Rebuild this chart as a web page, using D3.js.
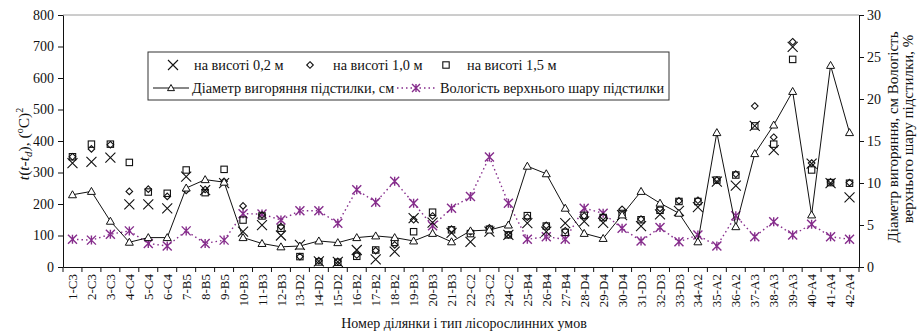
<!DOCTYPE html>
<html>
<head>
<meta charset="utf-8">
<script src="https://cdn.jsdelivr.net/npm/d3@7"></script>
<style>
  html, body { margin: 0; padding: 0; background: #fff; }
  svg { display: block; font-family: "Liberation Serif", "Times New Roman", serif; }
</style>
</head>
<body>
<svg id="chart" width="920" height="332"></svg>
<script>
// Plot numbers and soil/forest type per plot
const categories = ["1-C3","2-C3","3-C3","4-C4","5-C4","6-C4","7-B5","8-B5","9-B5","10-B3","11-B3","12-B3",
  "13-D2","14-D2","15-D2","16-B2","17-B2","18-B2","19-B3","20-B3","21-B3","22-C2","23-C2","24-C2",
  "25-B4","26-B4","27-B4","28-D4","29-D4","30-D4","31-D3","32-D3","33-D3","34-A2","35-A2","36-A2",
  "37-A3","38-A3","39-A3","40-A4","41-A4","42-A4"];

// t(t - t_d), (°C)^2 at three heights
const h02 = [330,334,347,199,199,186,287,244,266,112,133,100,70,18,16,54,24,49,155,141,108,80,112,102,
  139,112,139,145,140,165,130,167,178,190,271,258,448,371,699,328,266,221];
const h10 = [350,375,388,240,247,224,243,246,272,194,165,128,33,20,18,38,52,70,150,162,120,112,124,102,
  158,132,115,162,160,183,152,186,210,212,276,295,511,412,715,330,270,268];
const h15 = [350,390,390,332,238,234,308,236,310,149,162,123,33,16,15,34,54,78,112,174,118,106,120,102,
  163,130,110,164,157,170,150,180,208,208,276,292,448,390,659,308,268,266];

// Burn-out diameter, cm and moisture of the upper litter layer, % (right axis)
const diameter = [8.6,9.0,5.45,2.95,3.5,3.5,9.4,10.4,10.1,3.5,2.8,2.4,2.5,3.1,2.9,3.5,3.7,3.5,3.1,4.0,3.0,4.3,4.4,5.0,
  12.0,11.1,7.0,4.0,3.4,6.2,9.0,7.6,6.4,3.0,16.0,4.8,13.5,16.9,20.9,6.2,24.0,16.0];
const moisture = [3.3,3.2,3.9,4.3,2.8,2.5,4.3,2.8,3.2,6.35,6.3,5.6,6.7,6.7,5.2,9.2,7.7,10.2,7.6,4.9,7.0,8.4,13.1,7.6,
  3.3,3.6,3.3,7.0,6.4,4.6,3.1,4.7,3.0,3.8,2.5,6.1,3.6,5.4,3.8,5.1,3.6,3.3];

const leftTicks = [0,100,200,300,400,500,600,700,800];
const rightTicks = [0,5,10,15,20,25,30];

const purple = "#862d8c";
const svg = d3.select("#chart");
const L = 63, R = 859, T = 15, B = 267;

const x = d3.scaleBand().domain(categories).range([L, R]).padding(0);
const cx = c => x(c) + x.bandwidth() / 2;
const yL = d3.scaleLinear().domain([0, 800]).range([B, T]);
const yR = d3.scaleLinear().domain([0, 30]).range([B, T]);

// top frame line
svg.append("line").attr("x1", L).attr("x2", R).attr("y1", T).attr("y2", T)
  .attr("stroke", "#9a9a9a").attr("stroke-width", 1);

// left axis
const gL = svg.append("g").attr("transform", `translate(${L},0)`)
  .call(d3.axisLeft(yL).tickValues(leftTicks).tickSize(5).tickPadding(4).tickSizeOuter(0));
gL.selectAll("text").attr("font-size", 14).attr("font-family", "Liberation Serif").attr("fill", "#111");

// right axis
const gR = svg.append("g").attr("transform", `translate(${R},0)`)
  .call(d3.axisRight(yR).tickValues(rightTicks).tickSize(5).tickPadding(3).tickSizeOuter(0));
gR.selectAll("text").attr("font-size", 14).attr("font-family", "Liberation Serif").attr("fill", "#111");
[gL, gR].forEach(g => { g.selectAll("line,path").attr("stroke", "#111"); });

// bottom axis: labels centred on categories, ticks at band boundaries
const gB = svg.append("g").attr("transform", `translate(0,${B})`)
  .call(d3.axisBottom(x).tickSize(0).tickSizeOuter(0));
gB.select("path").attr("stroke", "#111");
gB.selectAll(".tick text")
  .attr("font-size", 13).attr("font-family", "Liberation Serif").attr("fill", "#111")
  .attr("text-anchor", "end")
  .attr("transform", "rotate(-90)")
  .attr("x", -7).attr("y", 0).attr("dy", "0.35em");
const bounds = categories.map(c => x(c)).concat([R]);
gB.selectAll(".bt").data(bounds).enter().append("line")
  .attr("x1", d => d).attr("x2", d => d).attr("y1", 0).attr("y2", 5)
  .attr("stroke", "#111");

// axis titles
svg.append("text").attr("x", 464).attr("y", 328).attr("text-anchor", "middle")
  .attr("font-size", 14).attr("fill", "#111").text("Номер ділянки і тип лісорослинних умов");

const lt = svg.append("text").attr("transform", "translate(29,144) rotate(-90)")
  .attr("text-anchor", "middle").attr("font-size", 15.5).attr("fill", "#111");
lt.append("tspan").attr("font-style", "italic").text("t");
lt.append("tspan").text("(");
lt.append("tspan").attr("font-style", "italic").text("t");
lt.append("tspan").text("-");
lt.append("tspan").attr("font-style", "italic").text("t");
lt.append("tspan").attr("font-style", "italic").attr("font-size", 11).attr("dy", 3).text("d");
lt.append("tspan").attr("dy", -3).text("), (");
lt.append("tspan").attr("font-size", 10).attr("dy", -6).text("o");
lt.append("tspan").attr("dy", 6).text("C)");
lt.append("tspan").attr("font-size", 10).attr("dy", -6).text("2");

svg.append("text").attr("transform", "translate(898,137) rotate(-90)")
  .attr("text-anchor", "middle").attr("font-size", 15).attr("fill", "#111")
  .text("Діаметр вигоряння, см Вологість");
svg.append("text").attr("transform", "translate(913,129) rotate(-90)")
  .attr("text-anchor", "middle").attr("font-size", 15).attr("fill", "#111")
  .text("верхнього шару підстилки, %");

// marker painters
function cross(g, px, py, r) {
  g.append("path").attr("d", `M${px-r},${py-r}L${px+r},${py+r}M${px-r},${py+r}L${px+r},${py-r}`)
    .attr("stroke", "#111").attr("stroke-width", 1.1).attr("fill", "none");
}
function diamond(g, px, py, r) {
  g.append("path").attr("d", `M${px},${py-r}L${px+r},${py}L${px},${py+r}L${px-r},${py}Z`)
    .attr("stroke", "#111").attr("stroke-width", 1.1).attr("fill", "none");
}
function square(g, px, py, r) {
  g.append("rect").attr("x", px - r).attr("y", py - r).attr("width", 2 * r).attr("height", 2 * r)
    .attr("stroke", "#111").attr("stroke-width", 1.1).attr("fill", "none");
}
function triangle(g, px, py, r) {
  g.append("path").attr("d", `M${px},${py-r}L${px+r},${py+r*0.75}L${px-r},${py+r*0.75}Z`)
    .attr("stroke", "#111").attr("stroke-width", 1).attr("fill", "#fff");
}
function star(g, px, py, r) {
  g.append("path").attr("d", `M${px-r},${py-r}L${px+r},${py+r}M${px-r},${py+r}L${px+r},${py-r}M${px},${py-r}L${px},${py+r}`)
    .attr("stroke", purple).attr("stroke-width", 1.4).attr("fill", "none");
}

const plot = svg.append("g");

// moisture: dotted purple line with star markers
plot.append("path").datum(moisture)
  .attr("d", d3.line().x((d, i) => cx(categories[i])).y(d => yR(d)))
  .attr("fill", "none").attr("stroke", purple).attr("stroke-width", 1.4).attr("stroke-dasharray", "1.5,3");
moisture.forEach((v, i) => star(plot, cx(categories[i]), yR(v), 4.5));

// temperature markers at three heights
h02.forEach((v, i) => cross(plot, cx(categories[i]), yL(v), 5));
h10.forEach((v, i) => diamond(plot, cx(categories[i]), yL(v), 3.3));
h15.forEach((v, i) => square(plot, cx(categories[i]), yL(v), 3.2));

// burn-out diameter: solid line with triangles
plot.append("path").datum(diameter)
  .attr("d", d3.line().x((d, i) => cx(categories[i])).y(d => yR(d)))
  .attr("fill", "none").attr("stroke", "#111").attr("stroke-width", 1);
diameter.forEach((v, i) => triangle(plot, cx(categories[i]), yR(v), 4));

// legend
const lg = svg.append("g");
lg.append("rect").attr("x", 148).attr("y", 52).attr("width", 521).attr("height", 48)
  .attr("fill", "#fff").attr("stroke", "#333").attr("stroke-width", 1);
const row1 = 65, row2 = 88;
cross(lg, 173, row1, 5);
diamond(lg, 310, row1, 3.3);
square(lg, 446, row1, 3.2);
const legText = (tx, ty, s) => lg.append("text").attr("x", tx).attr("y", ty).attr("dy", "0.35em")
  .attr("font-size", 14.3).attr("fill", "#111").text(s);
legText(194, row1, "на висоті 0,2 м");
legText(333, row1, "на висоті 1,0 м");
legText(467, row1, "на висоті 1,5 м");
lg.append("line").attr("x1", 153).attr("x2", 189).attr("y1", row2).attr("y2", row2).attr("stroke", "#111");
triangle(lg, 171, row2, 3.5);
legText(192, row2, "Діаметр вигоряння підстилки, см");
lg.append("line").attr("x1", 397).attr("x2", 436).attr("y1", row2).attr("y2", row2)
  .attr("stroke", purple).attr("stroke-width", 1.4).attr("stroke-dasharray", "1.5,3");
star(lg, 416, row2, 4);
legText(440, row2, "Вологість верхнього шару підстилки");
</script>
</body>
</html>
